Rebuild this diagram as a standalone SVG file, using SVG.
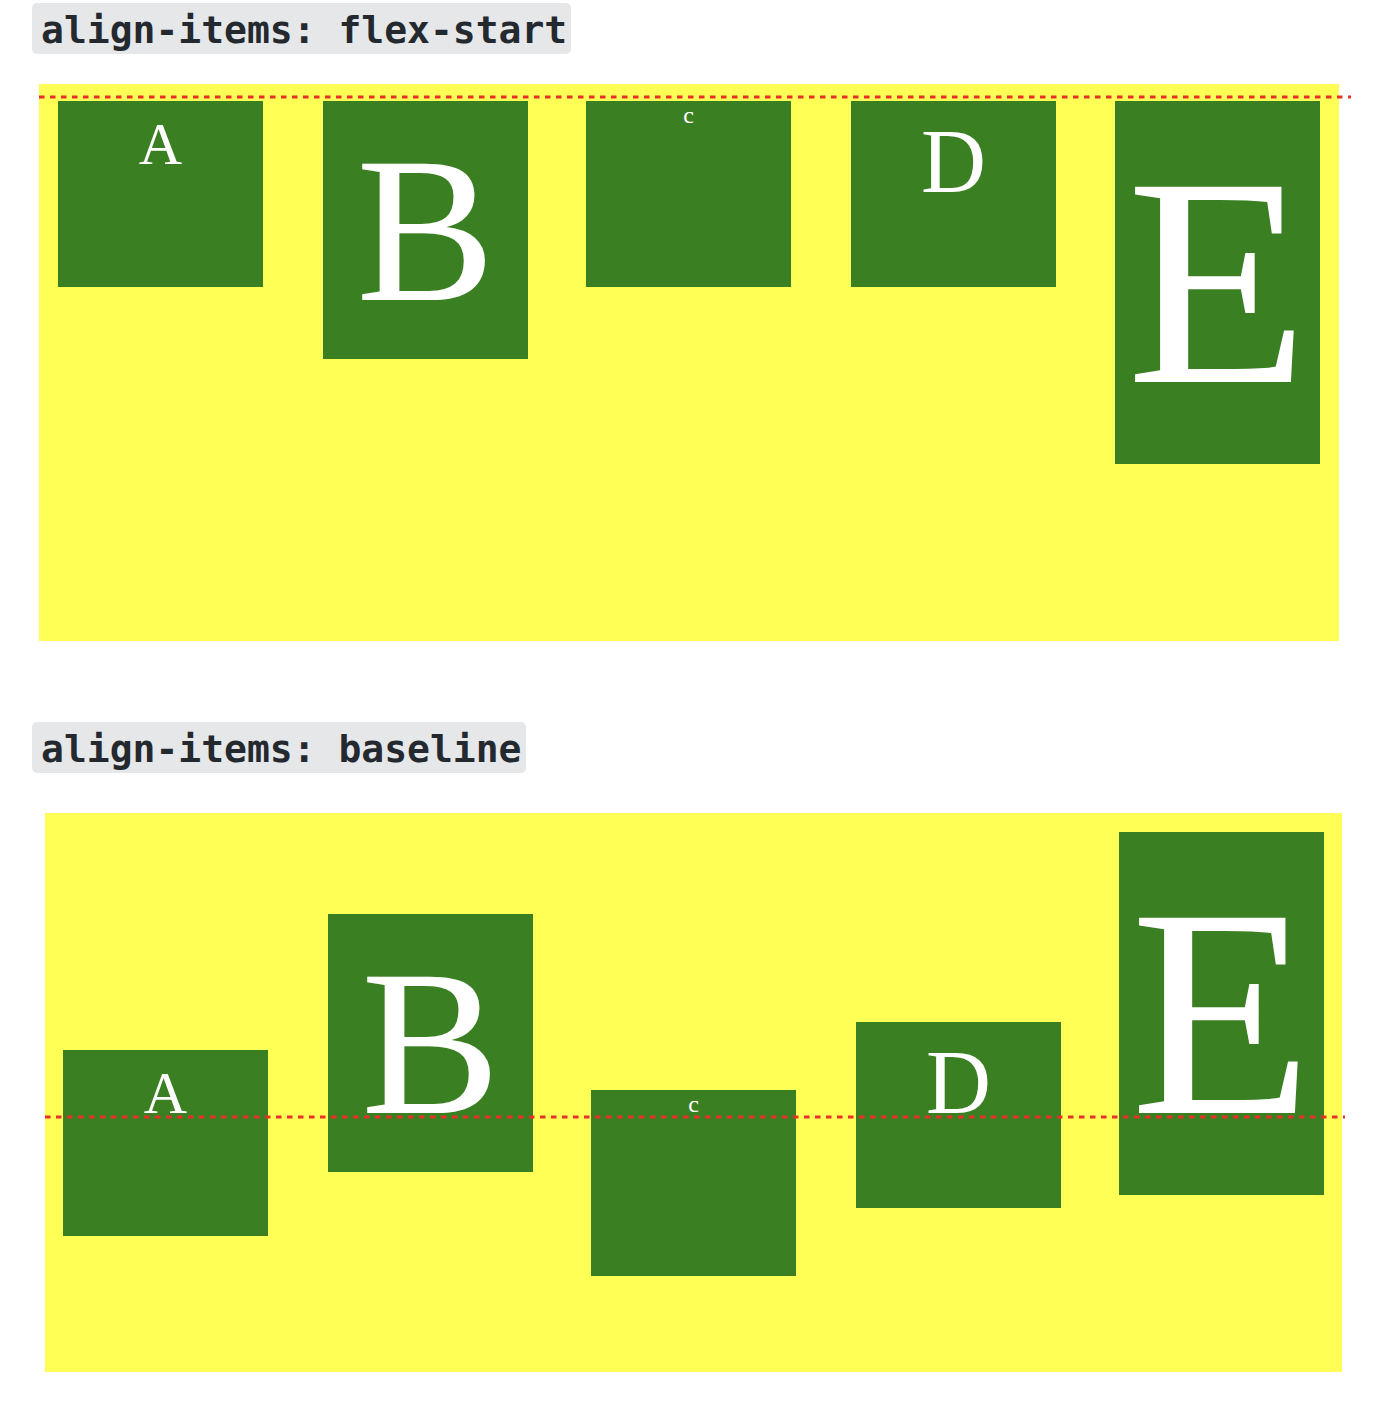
<svg xmlns="http://www.w3.org/2000/svg" width="1390" height="1404" viewBox="0 0 1390 1404">
  <style>
    .label-bg { fill: #e6e7e9; }
    .label { font-family: "DejaVu Sans Mono", "Liberation Mono", monospace; font-weight: bold; font-size: 38px; fill: #24292f; }
    .container { fill: #ffff55; }
    .item { fill: #3a7f22; }
    .letter { font-family: "Liberation Serif", "Times New Roman", serif; fill: #ffffff; text-anchor: middle; }
    .guide { stroke: #e8302a; stroke-width: 3; stroke-dasharray: 5.5 5.5; fill: none; }
  </style>
  <rect width="1390" height="1404" fill="#ffffff"/>

  <!-- Section 1: flex-start -->
  <g id="label-flex-start">
    <rect class="label-bg" x="32" y="3" width="539" height="51" rx="5"/>
    <text class="label" x="41" y="43">align-items: flex-start</text>
  </g>
  <g id="container-flex-start">
    <rect class="container" x="39" y="84" width="1300" height="557"/>
  </g>
  <g id="fs-A">
    <rect class="item" x="58" y="101" width="205" height="186"/>
    <text class="letter" x="160.5" y="164" font-size="60">A</text>
  </g>
  <g id="fs-B">
    <rect class="item" x="323" y="101" width="205" height="258"/>
    <text class="letter" x="425.5" y="300" font-size="208">B</text>
  </g>
  <g id="fs-C">
    <rect class="item" x="586" y="101" width="205" height="186"/>
    <text class="letter" x="688.5" y="123" font-size="24">c</text>
  </g>
  <g id="fs-D">
    <rect class="item" x="851" y="101" width="205" height="186"/>
    <text class="letter" x="953.5" y="192" font-size="90">D</text>
  </g>
  <g id="fs-E">
    <rect class="item" x="1115" y="101" width="205" height="363"/>
    <text class="letter" x="1217.5" y="382" font-size="298">E</text>
  </g>

  <!-- Section 2: baseline -->
  <g id="label-baseline">
    <rect class="label-bg" x="32" y="722" width="494" height="51" rx="5"/>
    <text class="label" x="41" y="762">align-items: baseline</text>
  </g>
  <g id="container-baseline">
    <rect class="container" x="45" y="813" width="1297" height="559"/>
  </g>
  <g id="bl-A">
    <rect class="item" x="63" y="1050" width="205" height="186"/>
    <text class="letter" x="165.5" y="1113" font-size="60">A</text>
  </g>
  <g id="bl-B">
    <rect class="item" x="328" y="914" width="205" height="258"/>
    <text class="letter" x="430.5" y="1113" font-size="208">B</text>
  </g>
  <g id="bl-C">
    <rect class="item" x="591" y="1090" width="205" height="186"/>
    <text class="letter" x="693.5" y="1112" font-size="24">c</text>
  </g>
  <g id="bl-D">
    <rect class="item" x="856" y="1022" width="205" height="186"/>
    <text class="letter" x="958.5" y="1113" font-size="90">D</text>
  </g>
  <g id="bl-E">
    <rect class="item" x="1119" y="832" width="205" height="363"/>
    <text class="letter" x="1221.5" y="1113" font-size="298">E</text>
  </g>

  <!-- Guide lines -->
  <g id="connectors">
    <line class="guide" x1="39" y1="97" x2="1351" y2="97"/>
    <line class="guide" x1="45" y1="1117" x2="1345" y2="1117"/>
  </g>
</svg>
